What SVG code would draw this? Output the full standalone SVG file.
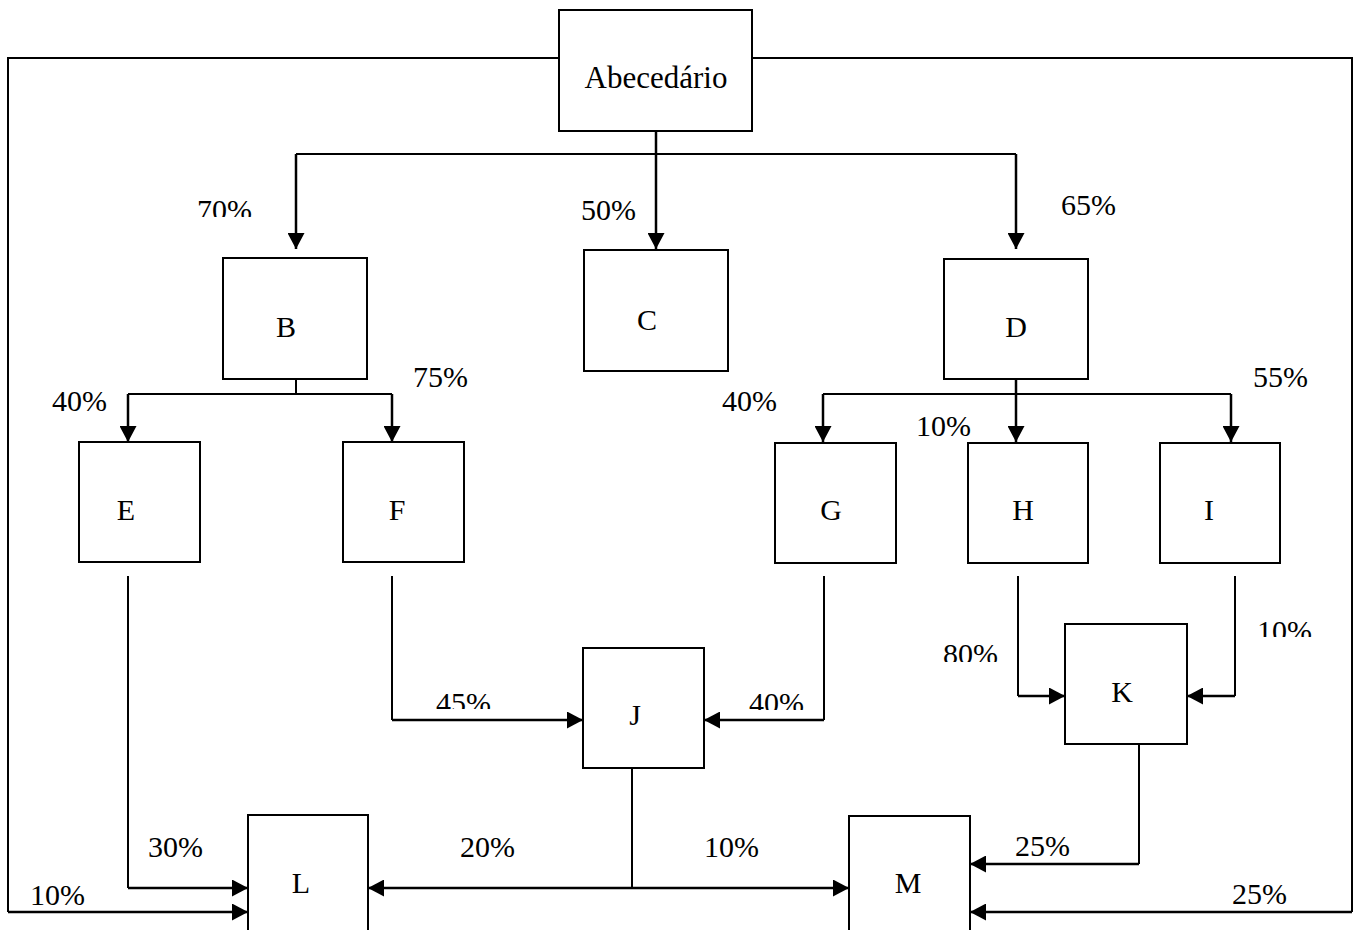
<svg xmlns="http://www.w3.org/2000/svg" width="1357" height="930" viewBox="0 0 1357 930">
<style>
.box{fill:#fff;stroke:#000;stroke-width:2}
.t{font-family:"Liberation Serif","Times New Roman",serif;font-size:30px;fill:#000}
.n{text-anchor:middle}
.c{fill:none;stroke:#000;stroke-width:2}
.a{fill:none;stroke:#000;stroke-width:2.5;marker-end:url(#ah)}
</style>
<defs>
<marker id="ah" markerWidth="16" markerHeight="17" refX="16" refY="8.5" orient="auto" markerUnits="userSpaceOnUse">
<path d="M0,0 L16,8.5 L0,17 Z" fill="#000"/>
</marker>
<clipPath id="k70"><rect x="180" y="180" width="100" height="37"/></clipPath>
<clipPath id="k45"><rect x="420" y="670" width="100" height="39"/></clipPath>
<clipPath id="k40j"><rect x="735" y="670" width="100" height="40"/></clipPath>
<clipPath id="k80"><rect x="925" y="620" width="100" height="42"/></clipPath>
<clipPath id="k10i"><rect x="1240" y="600" width="100" height="37"/></clipPath>
</defs>
<rect width="1357" height="930" fill="#fff"/>
<g id="connectors">
<path class="c" d="M559,58 H8 V912"/>
<path class="a" d="M8,912 H248"/>
<path class="c" d="M752,58 H1352 V912"/>
<path class="a" d="M1352,912 H970"/>
<path class="a" d="M656,131 V249"/>
<path class="c" d="M296,154 H1016"/>
<path class="a" d="M296,154 V249"/>
<path class="a" d="M1016,154 V249"/>
<path class="c" d="M296,371 V394"/>
<path class="c" d="M128,394 H392"/>
<path class="a" d="M128,394 V442"/>
<path class="a" d="M392,394 V442"/>
<path class="c" d="M823,394 H1231"/>
<path class="a" d="M823,394 V442"/>
<path class="a" d="M1016,371 V442"/>
<path class="a" d="M1231,394 V442"/>
<path class="c" d="M128,576 V888"/>
<path class="a" d="M128,888 H248"/>
<path class="c" d="M392,576 V720"/>
<path class="a" d="M392,720 H583"/>
<path class="c" d="M824,576 V720"/>
<path class="a" d="M824,720 H704"/>
<path class="c" d="M1018,576 V696"/>
<path class="a" d="M1018,696 H1065"/>
<path class="c" d="M1235,576 V696"/>
<path class="a" d="M1235,696 H1187"/>
<path class="c" d="M1139,744 V864"/>
<path class="a" d="M1139,864 H970"/>
<path class="c" d="M632,768 V888"/>
<path class="a" d="M632,888 H368"/>
<path class="a" d="M632,888 H849"/>
</g>
<g id="node-abecedario"><rect class="box" x="559" y="10" width="193" height="121"/><text class="t n" x="656" y="88" style="font-size:31px">Abecedário</text></g>
<g id="node-B"><rect class="box" x="223" y="258" width="144" height="121"/><text class="t n" x="286" y="337">B</text></g>
<g id="node-C"><rect class="box" x="584" y="250" width="144" height="121"/><text class="t n" x="647" y="330">C</text></g>
<g id="node-D"><rect class="box" x="944" y="259" width="144" height="120"/><text class="t n" x="1016" y="337">D</text></g>
<g id="node-E"><rect class="box" x="79" y="442" width="121" height="120"/><text class="t n" x="126" y="520">E</text></g>
<g id="node-F"><rect class="box" x="343" y="442" width="121" height="120"/><text class="t n" x="397" y="520">F</text></g>
<g id="node-G"><rect class="box" x="775" y="443" width="121" height="120"/><text class="t n" x="831" y="520">G</text></g>
<g id="node-H"><rect class="box" x="968" y="443" width="120" height="120"/><text class="t n" x="1023" y="520">H</text></g>
<g id="node-I"><rect class="box" x="1160" y="443" width="120" height="120"/><text class="t n" x="1209" y="520">I</text></g>
<g id="node-J"><rect class="box" x="583" y="648" width="121" height="120"/><text class="t n" x="635" y="725">J</text></g>
<g id="node-K"><rect class="box" x="1065" y="624" width="122" height="120"/><text class="t n" x="1122" y="702">K</text></g>
<g id="node-L"><rect class="box" x="248" y="815" width="120" height="125"/><text class="t n" x="301" y="893">L</text></g>
<g id="node-M"><rect class="box" x="849" y="816" width="121" height="125"/><text class="t n" x="908" y="893">M</text></g>
<g id="labels">
<text class="t" x="197" y="220" clip-path="url(#k70)">70%</text>
<text class="t" x="581" y="220">50%</text>
<text class="t" x="1061" y="215">65%</text>
<text class="t" x="52" y="411">40%</text>
<text class="t" x="413" y="387">75%</text>
<text class="t" x="722" y="411">40%</text>
<text class="t" x="916" y="436">10%</text>
<text class="t" x="1253" y="387">55%</text>
<text class="t" x="436" y="713" clip-path="url(#k45)">45%</text>
<text class="t" x="749" y="713" clip-path="url(#k40j)">40%</text>
<text class="t" x="943" y="664" clip-path="url(#k80)">80%</text>
<text class="t" x="1257" y="641" clip-path="url(#k10i)">10%</text>
<text class="t" x="148" y="857">30%</text>
<text class="t" x="30" y="905">10%</text>
<text class="t" x="460" y="857">20%</text>
<text class="t" x="704" y="857">10%</text>
<text class="t" x="1015" y="856">25%</text>
<text class="t" x="1232" y="904">25%</text>
</g>
</svg>
